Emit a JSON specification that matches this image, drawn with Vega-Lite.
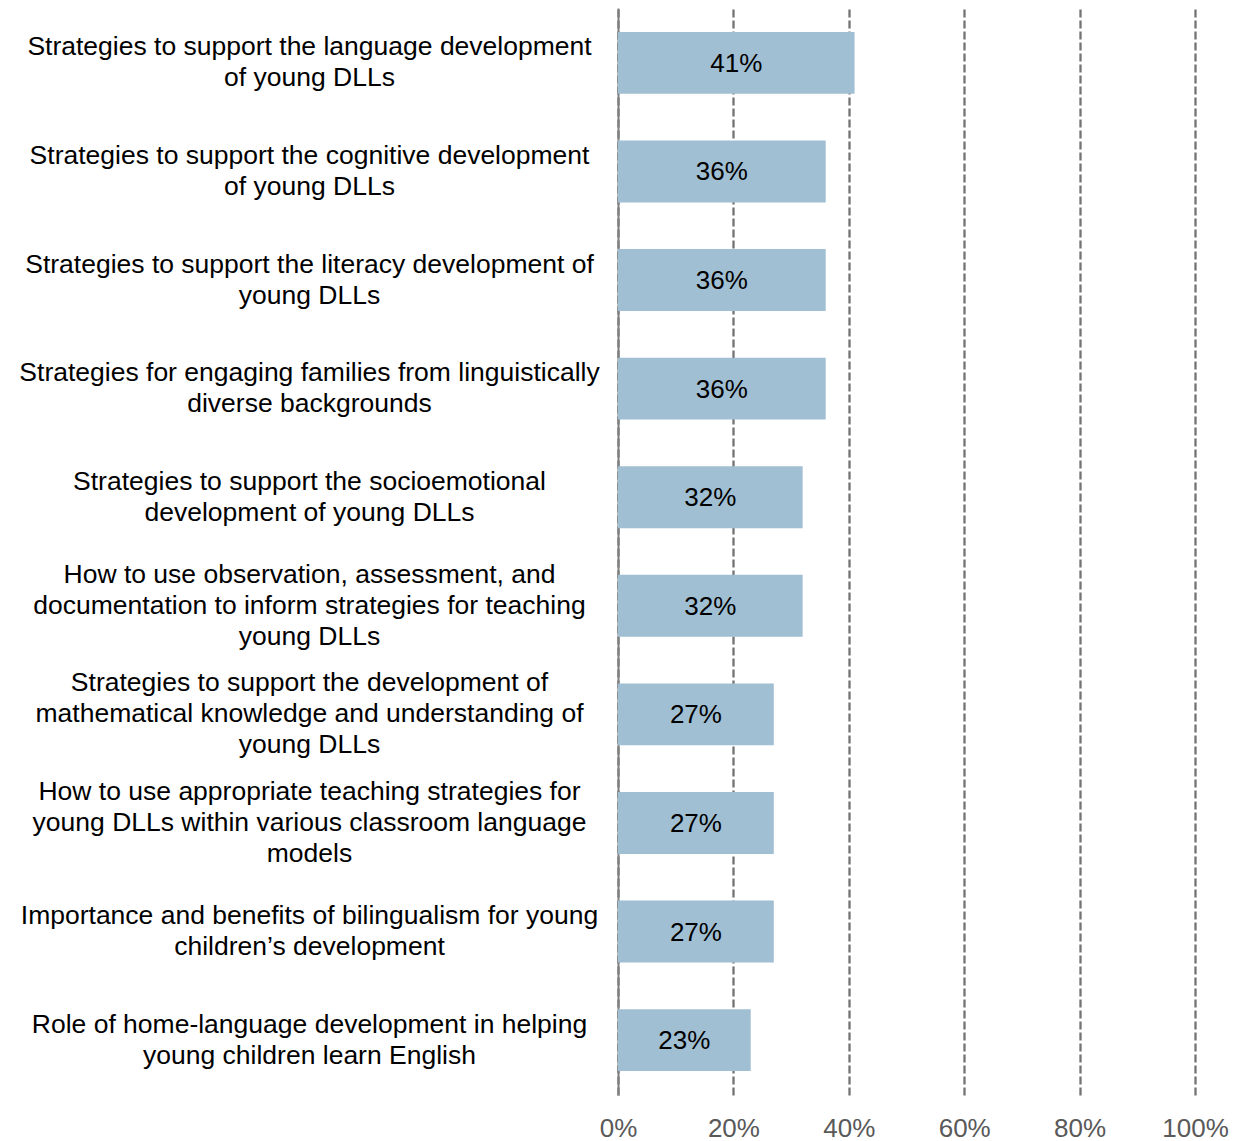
{
  "$schema": "https://vega.github.io/schema/vega-lite/v6.json",
  "autosize": "none",
  "padding": {"left": 618, "top": 8, "right": 44, "bottom": 46},
  "width": 577,
  "height": 1087,
  "background": "white",
  "data": {
    "values": [
      {"topic": "Strategies to support the language development|of young DLLs", "v": 0.41},
      {"topic": "Strategies to support the cognitive development|of young DLLs", "v": 0.36},
      {"topic": "Strategies to support the literacy development of|young DLLs", "v": 0.36},
      {"topic": "Strategies for engaging families from linguistically|diverse backgrounds", "v": 0.36},
      {"topic": "Strategies to support the socioemotional|development of young DLLs", "v": 0.32},
      {"topic": "How to use observation, assessment, and|documentation to inform strategies for teaching|young DLLs", "v": 0.32},
      {"topic": "Strategies to support the development of|mathematical knowledge and understanding of|young DLLs", "v": 0.27},
      {"topic": "How to use appropriate teaching strategies for|young DLLs within various classroom language|models", "v": 0.27},
      {"topic": "Importance and benefits of bilingualism for young|children’s development", "v": 0.27},
      {"topic": "Role of home-language development in helping|young children learn English", "v": 0.23}
    ]
  },
  "config": {
    "view": {"stroke": null},
    "font": "Liberation Sans"
  },
  "encoding": {
    "y": {
      "field": "topic",
      "type": "nominal",
      "sort": null,
      "scale": {"paddingInner": 0.43, "paddingOuter": 0.22},
      "axis": {
        "title": null,
        "ticks": false,
        "domain": true,
        "domainColor": "#808080",
        "domainWidth": 2,
        "labelExpr": "split(datum.label, '|')",
        "labelAlign": "center",
        "labelBaseline": "middle",
        "labelOffset": {"condition": {"test": "length(split(datum.label, '|')) >= 3", "value": -31}, "value": -15.5},
        "labelPadding": 309,
        "labelFontSize": 26.5,
        "labelLineHeight": 31,
        "labelColor": "#000000",
        "labelLimit": 0
      }
    }
  },
  "layer": [
    {
      "mark": {"type": "bar", "color": "#A0BFD3"},
      "encoding": {
        "x": {
          "field": "v",
          "type": "quantitative",
          "scale": {"domain": [0, 1]},
          "axis": {
            "title": null,
            "format": "%",
            "values": [0, 0.2, 0.4, 0.6, 0.8, 1],
            "domain": false,
            "ticks": false,
            "grid": true,
            "gridColor": "#737373",
            "gridDash": [8, 3],
            "gridWidth": 2.3,
            "labelFontSize": 26,
            "labelColor": "#595959",
            "labelPadding": 20,
            "labelFlush": false
          }
        }
      }
    },
    {
      "transform": [{"calculate": "datum.v / 2", "as": "mid"}],
      "mark": {"type": "text", "fontSize": 26, "color": "#000000", "baseline": "middle", "align": "center", "dy": 1},
      "encoding": {
        "x": {"field": "mid", "type": "quantitative"},
        "text": {"field": "v", "type": "quantitative", "format": ".0%"}
      }
    }
  ]
}
